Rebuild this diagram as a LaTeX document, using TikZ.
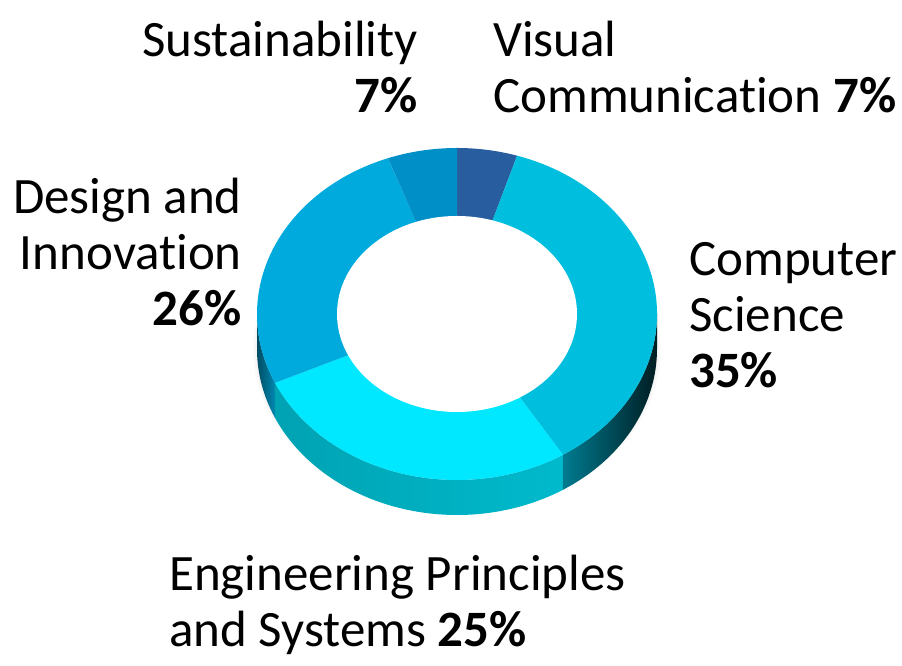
\documentclass[tikz,border=0pt]{standalone}
\usepackage{fontspec}
\setmainfont{Carlito}[Ligatures=NoCommon]
\definecolor{viscol}{HTML}{285EA0}
\definecolor{sustcol}{HTML}{008FC6}
\definecolor{descol}{HTML}{00AADC}
\definecolor{cscol}{HTML}{00BEDE}
\definecolor{engcol}{HTML}{00E8FF}
\begin{document}
\begin{tikzpicture}[x=1pt,y=1pt,
  lbl/.style={inner sep=0pt,font=\fontsize{51}{56}\selectfont},
  side/.style={shift={(457,352)}}]
\useasboundingbox (0,0) rectangle (902,666);

\foreach \r in {2,4,...,14}
  \fill[black,opacity=0.02] (457,317) ellipse ({190+\r} and {150+\r});

\shade[side,left color=descol!45!black,right color=descol!80!black]
  (180:200 and 166) arc[start angle=180,end angle=204.5,x radius=200,y radius=166]
  -- ++(0,-35) arc[start angle=204.5,end angle=180,x radius=200,y radius=166] -- cycle;
\shade[side,left color=engcol!70!black,middle color=engcol!95!black,right color=engcol!80!black]
  (204.5:200 and 166) arc[start angle=204.5,end angle=302,x radius=200,y radius=166]
  -- ++(0,-35) arc[start angle=302,end angle=204.5,x radius=200,y radius=166] -- cycle;
\shade[side,left color=cscol!65!black,right color=cscol!15!black]
  (302:200 and 166) arc[start angle=302,end angle=360,x radius=200,y radius=166]
  -- ++(0,-35) arc[start angle=360,end angle=302,x radius=200,y radius=166] -- cycle;

\foreach \a/\b/\c in {72.5/90/viscol,-58/72.5/cscol,-155.5/-58/engcol,110.2/204.5/descol,90/110.2/sustcol}
  \fill[side,\c] (0,0) -- (\a:200 and 166) arc[start angle=\a,end angle=\b,x radius=200,y radius=166] -- cycle;

\fill[white] (457,352) ellipse (120 and 98);

\node[lbl,anchor=base east,align=right] (SU) at (418,553) {Sustainability\\\textbf{7\%}};
\node[lbl,anchor=base west,align=left] (VC) at (493,553) {Visual\\Communication \textbf{7\%}};
\node[lbl,anchor=base east,align=right] (DI) at (242,340) {Design and\\Innovation\\\textbf{26\%}};
\node[lbl,anchor=base west,align=left] (CS) at (689,278) {Computer\\Science\\\textbf{35\%}};
\node[lbl,anchor=base west,align=left] (EP) at (169,19) {Engineering Principles\\and Systems \textbf{25\%}};

\end{tikzpicture}
\end{document}
